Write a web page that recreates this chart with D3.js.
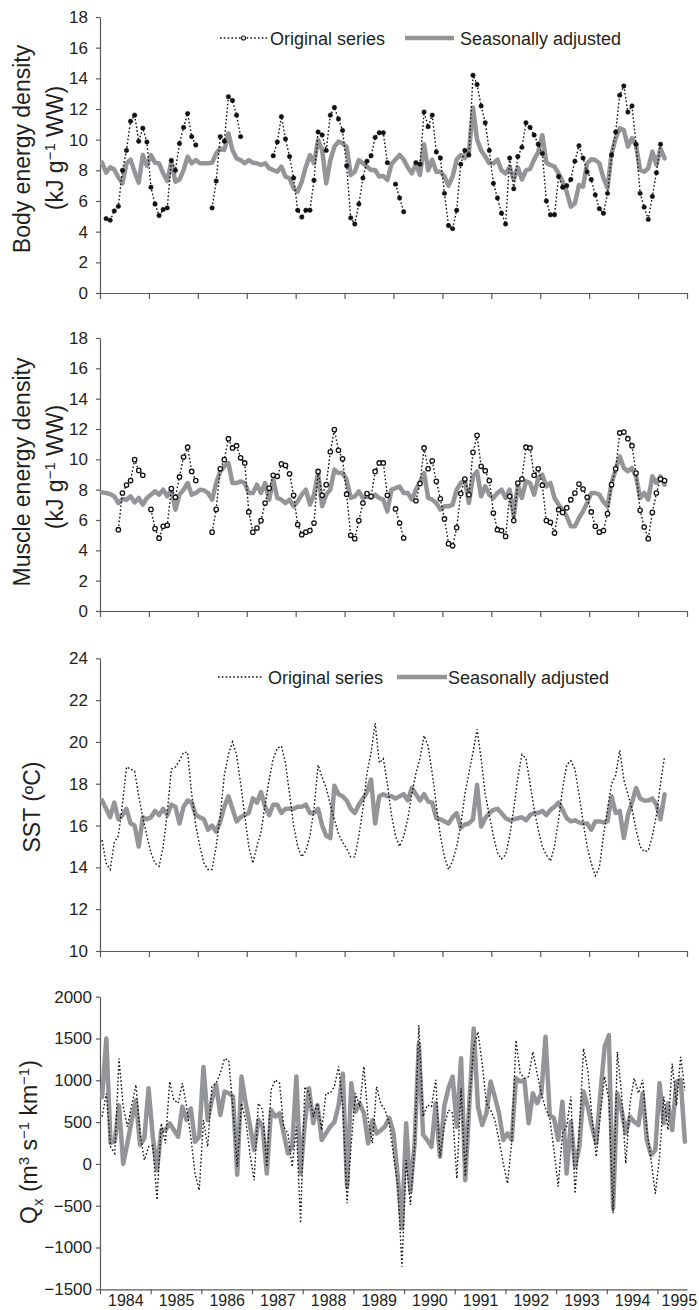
<!DOCTYPE html>
<meta charset="utf-8">
<style>
body { margin: 0; background: #fff; }
svg { display: block; font-family: "Liberation Sans", Arial, Helvetica, sans-serif; }
.axis path, .axis line { stroke: #58595b; stroke-width: 1.2px; }
.axis text { fill: #231f20; font-size: 17px; font-family: "Liberation Sans", Arial, sans-serif; }
.years text { font-size: 16px; }
.adjusted { fill: none; stroke: #939598; stroke-width: 4.5px; stroke-linejoin: round; stroke-linecap: round; }
.original { fill: none; stroke: #111; stroke-width: 1.4px; stroke-dasharray: 1.6,2.2; }
.label { fill: #231f20; font-size: 23px; }
.legend { fill: #231f20; font-size: 18px; }
</style>
<svg width="699" height="1310"></svg>
<script src="https://d3js.org/d3.v7.min.js"></script>
<script>

// monthly values, 139 months from Jan 1984; null = no sample that month
var bodyOriginal = [
  null, 4.85, 4.75, 5.35, 5.65, 8.0, 9.3, 11.2, 11.6, 9.9, 10.75, 9.85,
  6.9, 5.8, 5.05, 5.45, 5.55, 8.65, 8.0, 9.75, 10.8, 11.7, 10.2, 9.65,
  null, null, null, 5.55, 7.3, 10.2, 9.9, 12.8, 12.55, 11.6, 10.2, null,
  null, null, null, null, null, null, 8.95, 9.85, 11.5, 10.05, 8.9, 7.5,
  5.4, 4.95, 5.4, 5.4, 7.35, 10.5, 10.3, 9.3, 11.6, 12.1, 11.35, 10.6,
  8.3, 4.9, 4.5, 5.8, 7.5, 8.6, 8.95, 10.15, 10.45, 10.45, 8.5, null,
  7.1, 6.2, 5.3, null, null, 8.5, 8.4, 11.8, 10.85, 11.6, 9.2, 8.8,
  6.5, 4.4, 4.2, 5.4, 8.4, 9.3, 9.0, 14.2, 13.6, 12.2, 11.1, 9.3,
  7.15, 6.2, 5.2, 4.5, 8.8, 6.8, 8.9, 9.5, 11.1, 10.8, 10.3, 9.7,
  9.1, 6.0, 5.1, 5.1, 7.6, 6.9, 7.0, 7.4, 8.6, 9.6, 8.8, 7.9,
  7.4, 6.4, 5.5, 5.2, 6.5, 9.0, 10.5, 12.9, 13.5, 11.8, 12.2, 9.7,
  6.5, 5.6, 4.8, 6.3, 7.85, 9.7, null
];
var bodyAdjusted = [
  8.5, 7.85, 8.2, 8.05, 7.55, 7.15, 8.45, 8.7, 7.9, 7.2, 9.0, 8.3,
  9.0, 8.5, 8.45, 7.8, 7.3, 8.57, 7.26, 7.4, 8.02, 8.89, 8.46, 8.67,
  8.46, 8.46, 8.46, 8.5, 9.1, 9.43, 9.33, 10.41, 9.33, 8.78, 8.67, 8.46,
  8.67, 8.5, 8.46, 8.35, 8.46, 8.13, 8.02, 7.91, 8.24, 7.59, 7.48, 6.83,
  6.61, 7.26, 8.24, 9.0, 8.46, 9.98, 9.33, 7.15, 8.67, 9.54, 9.87, 9.76,
  9.54, 7.7, 7.91, 8.67, 8.46, 8.24, 8.02, 8.02, 7.59, 7.63, 7.37, 8.4,
  8.7, 9.0, 8.7, 8.2, 7.8, 8.4, 7.7, 9.7, 8.0, 8.7, 7.9, 7.9,
  7.6, 7.0, 7.6, 8.7, 9.0, 8.8, 9.2, 12.1, 10.0, 9.3, 8.9, 8.46,
  8.46, 8.7, 8.0, 7.8, 8.2, 7.4, 8.2, 7.4, 8.0, 8.1, 8.7, 9.2,
  10.3, 8.5, 8.35, 8.24, 7.8, 7.26, 6.6, 5.63, 5.85, 7.04, 6.93, 8.46,
  8.72, 8.67, 8.46, 7.5, 6.83, 9.11, 10.09, 10.74, 10.63, 9.54, 10.09, 9.65,
  8.02, 7.91, 8.13, 9.22, 8.35, 9.43, 8.78
];
var muscleOriginal = [
  null, null, null, null, 5.36, 7.78, 8.3, 8.6, 9.98, 9.27, 8.95, null,
  6.7, 5.43, 4.8, 5.58, 5.65, 8.07, 7.5, 8.84, 10.15, 10.8, 9.2, 8.6,
  null, null, null, 5.2, 6.7, 9.38, 9.98, 11.36, 10.75, 10.9, 10.1, 9.76,
  6.53, 5.2, 5.47, 5.96, 7.12, 8.1, 8.95, 8.88, 9.7, 9.6, 9.05, 7.63,
  5.7, 5.03, 5.2, 5.3, 5.8, 9.2, 7.63, 8.33, 10.5, 11.96, 10.6, 10.04,
  7.7, 4.99, 4.77, 5.96, 7.12, 7.74, 7.56, 9.2, 9.76, 9.76, 7.63, null,
  6.73, 5.8, 4.81, null, null, 7.27, 8.4, 10.75, 9.38, 9.9, 8.55, 7.4,
  6.07, 4.44, 4.3, 5.5, 7.74, 8.7, 7.67, 10.46, 11.58, 9.54, 9.25, 8.6,
  6.46, 5.36, 5.3, 4.92, 7.56, 5.96, 8.44, 8.7, 10.8, 10.75, 8.95, 9.38,
  8.29, 5.96, 5.85, 5.14, 6.68, 6.5, 6.8, 7.34, 7.78, 8.37, 8.04, 7.5,
  6.53, 5.58, 5.2, 5.3, 6.42, 8.33, 9.38, 11.74, 11.8, 11.36, 10.9, 9.1,
  6.64, 5.54, 4.77, 6.5, 7.78, 8.7, 8.6
];
var muscleAdjusted = [
  7.82, 7.78, 7.71, 7.56, 7.12, 7.38, 7.34, 7.56, 7.16, 7.45, 7.01, 7.45,
  7.67, 7.89, 7.67, 8.0, 7.56, 8.0, 6.68, 7.67, 8.0, 8.44, 7.67, 7.78,
  8.0, 7.96, 7.78, 7.34, 8.44, 9.21, 9.54, 9.76, 8.44, 8.44, 8.55, 8.44,
  7.78, 7.78, 8.33, 7.78, 8.44, 7.34, 8.66, 7.45, 7.34, 7.12, 7.34, 6.9,
  7.23, 7.67, 8.0, 7.01, 7.67, 9.1, 6.9, 7.67, 8.0, 9.32, 9.1, 9.1,
  8.66, 7.45, 7.56, 7.89, 7.45, 7.56, 7.45, 7.67, 7.45, 7.34, 6.57, 8.0,
  8.1, 8.2, 7.78, 7.78, 7.34, 8.0, 8.5, 9.1, 7.45, 7.34, 7.12, 6.68,
  6.9, 6.9, 7.01, 8.0, 8.44, 8.66, 7.12, 8.88, 9.21, 7.56, 8.22, 7.67,
  7.45, 7.78, 8.0, 7.45, 8.0, 6.24, 8.33, 7.45, 8.55, 8.44, 7.67, 8.77,
  8.99, 8.22, 8.44, 7.45, 7.01, 6.68, 6.24, 5.58, 5.58, 6.13, 6.57, 7.12,
  7.78, 7.78, 7.67, 7.2, 6.9, 8.44, 9.32, 10.2, 9.43, 9.21, 9.43, 8.88,
  7.45, 7.78, 7.34, 8.88, 8.44, 8.88, 8.33
];
var sstOriginal = [
  15.3, 14.2, 13.9, 15.2, 15.5, 17.0, 18.8, 18.7, 18.6, 17.4, 16.4, 15.5,
  14.7, 14.2, 14.05, 15.0, 16.6, 18.7, 18.8, 19.1, 19.5, 19.5, 17.5, 16.0,
  15.0, 14.2, 13.9, 13.9, 15.0, 16.5, 18.4, 19.4, 20.0, 19.4, 18.0, 16.5,
  15.0, 14.2, 15.0, 15.7, 17.0, 18.2, 19.2, 19.7, 19.8, 19.0, 17.5, 16.0,
  15.0, 14.5, 14.8, 15.5, 16.8, 18.9, 18.3, 17.8, 17.0, 16.3, 15.6, 15.2,
  14.9, 14.5, 14.5, 15.5, 16.8, 18.5, 19.5, 20.9, 19.0, 19.2, 18.0, 16.5,
  15.5, 15.0, 15.5, 16.3, 17.5, 18.5, 19.2, 20.3, 19.8, 18.5, 17.0, 15.5,
  14.5, 13.9, 14.3, 15.0, 16.0, 17.5, 18.5, 19.5, 20.6, 19.2, 17.5, 16.5,
  15.5, 14.7, 14.4, 14.6, 15.5, 16.8, 18.3, 19.4, 19.2, 18.0, 16.8, 15.8,
  15.0, 14.6, 14.3, 15.0, 16.3, 17.8, 18.9, 19.1, 18.7, 17.5, 16.2, 15.0,
  14.2, 13.6, 14.0, 15.5, 16.8, 18.0, 18.4, 19.6, 18.2, 17.5, 16.8, 15.8,
  15.0, 14.75, 14.8, 15.5, 16.5, 18.0, 19.3
];
var sstAdjusted = [
  17.2, 16.8, 16.4, 17.1, 16.3, 16.5, 16.8, 16.1, 16.0, 15.0, 16.4, 16.3,
  16.4, 16.7, 16.5, 16.8, 16.5, 17.0, 16.9, 16.1, 16.9, 17.2, 17.1, 16.5,
  16.4, 16.3, 15.8, 16.0, 15.7, 16.2, 16.9, 17.4, 16.8, 16.2, 16.4, 16.5,
  16.6, 17.3, 17.1, 17.6, 16.9, 16.5, 17.0, 17.0, 16.6, 16.8, 16.8, 16.8,
  16.9, 16.9, 17.0, 16.6, 16.6, 16.8, 16.0, 15.5, 15.4, 17.9, 17.5, 17.4,
  17.2, 16.8, 16.6, 17.0, 17.3, 17.6, 18.2, 16.1, 17.4, 17.5, 17.4, 17.4,
  17.3, 17.4, 17.5, 17.2, 17.8, 17.5, 17.2, 17.5, 17.15, 17.1, 16.35, 16.3,
  16.2, 16.1, 16.4, 16.6, 15.9, 16.05, 16.1, 16.3, 17.95, 15.95, 16.35, 16.6,
  16.75, 16.8, 16.6, 16.35, 16.25, 16.3, 16.35, 16.4, 16.25, 16.5, 16.6, 16.6,
  16.7, 16.5, 16.75, 16.9, 17.1, 16.75, 16.35, 16.2, 16.25, 16.15, 16.1, 16.1,
  15.8, 16.2, 16.2, 16.15, 16.2, 17.4, 16.6, 16.7, 15.4, 16.5, 17.1, 17.8,
  17.3, 17.2, 17.2, 17.3, 17.0, 16.3, 17.5
];
var qxOriginal = [
  565, 840, 205, 125, 1260, 685, 445, 700, 945, 365, 45, 205,
  220, -430, 485, 245, 985, 765, 725, 965, 685, 325, -115, -315,
  525, 205, 925, 965, 1085, 1260, 1240, 645, -35, 725, 525, 125,
  -195, 725, 645, -35, 885, 1005, 965, 445, 365, -35, 445, -710,
  925, 845, 565, 725, 405, 845, 845, 925, 1165, 685, -470, 245,
  845, 685, 1165, 525, 245, 925, 720, 645, 480, 100, -250, -1230,
  45, -490, 205, 1660, 565, 705, 685, 1005, 85, 445, 645, 605,
  -175, 905, -150, 765, 1400, 1580, 1200, 725, 645, 525, 285, 5,
  -235, 265, 1480, 1085, 1025, 1045, 1340, 1085, 845, 665, 545, 165,
  -270, 365, 445, 805, -355, 405, 1380, 1125, 565, 85, 605, 1045,
  765, -590, 1340, 845, 5, 725, 1025, 845, 1005, 405, 45, -355,
  85, 805, 405, 1200, 700, 1280, 880
];
var qxAdjusted = [
  800, 1500, 250, 270, 700, 0, 250, 525, 760, 225, 305, 905,
  325, -75, 405, 405, 485, 405, 325, 685, 525, 665, 265, 325,
  1160, 525, 765, 945, 585, 865, 845, 805, -130, 1045, 725, 465,
  165, 525, 445, -115, 645, 565, 605, 365, 125, 205, 1045, -115,
  485, 905, 485, 705, 285, 365, 445, 500, 700, 1080, -270, 965,
  625, 725, 605, 245, 525, 365, 400, 450, 550, 370, -150, -770,
  485, -330, 250, 1440, 350, 285, 205, 725, 85, 685, 905, 1045,
  445, 1265, -195, 765, 1620, 685, 465, 605, 985, 800, 605, 285,
  365, 285, 1025, 985, 1005, 485, 845, 725, 845, 1520, 585, 545,
  285, 745, -115, 505, -35, 205, 865, 685, 445, 245, 845, 1400,
  1540, -530, 845, 645, 365, 565, 505, 465, 845, 285, 105, 165,
  965, 485, 725, 405, 985, 1005, 265
];

var years = ["1984", "1985", "1986", "1987", "1988", "1989", "1990", "1991", "1992", "1993", "1994", "1995"];
var energyTicks = [0, 2, 4, 6, 8, 10, 12, 14, 16, 18];
var sstTicks = [10, 12, 14, 16, 18, 20, 22, 24];
var qxTicks = [-1500, -1000, -500, 0, 500, 1000, 1500, 2000];

var svg = d3.select("svg"),
    left = 100,
    right = 687;

var panels = [
  {orig: bodyOriginal, adj: bodyAdjusted, ticks: energyTicks, top: 17, bottom: 293, slots: 144, marker: "dot", pad: 8},
  {orig: muscleOriginal, adj: muscleAdjusted, ticks: energyTicks, top: 338, bottom: 611, slots: 144, marker: "ring", pad: 8},
  {orig: sstOriginal, adj: sstAdjusted, ticks: sstTicks, top: 658.3, bottom: 951, slots: 144, pad: 8},
  {orig: qxOriginal, adj: qxAdjusted, ticks: qxTicks, top: 996.7, bottom: 1289.3, slots: 139, pad: 4, years: true}
];

panels.forEach(function(p) {
  var x = d3.scaleLinear().domain([0, p.slots]).range([left, right]),
      y = d3.scaleLinear().domain(d3.extent(p.ticks)).range([p.bottom, p.top]);
  var g = svg.append("g");

  var line = d3.line()
      .defined(function(d) { return d != null; })
      .x(function(d, i) { return x(i + 0.5); })
      .y(function(d) { return y(d); });

  // axes first so the lines sit on top
  g.append("g")
      .attr("class", "axis")
      .attr("transform", "translate(" + left + ",0)")
      .call(d3.axisLeft(y).tickValues(p.ticks).tickSize(4).tickSizeOuter(0)
        .tickPadding(p.pad).tickFormat(d3.format("d")));

  var monthTicks = d3.range(0, p.slots + 1, 12);
  if (p.years) monthTicks = monthTicks.filter(function(m) { return m < p.slots - 6; });
  g.append("g")
      .attr("class", "axis")
      .attr("transform", "translate(0," + p.bottom + ")")
      .call(d3.axisBottom(x).tickValues(monthTicks).tickSize(p.years ? 5 : 6).tickSizeOuter(0).tickFormat(""));

  if (p.years) {
    var yr = g.append("g")
        .attr("class", "axis years")
        .attr("transform", "translate(0," + p.bottom + ")")
        .call(d3.axisBottom(x).tickValues(years.map(function(d, k) { return 12 * k + 6; }))
          .tickSize(0).tickPadding(5).tickFormat(function(d, k) { return years[k]; }));
    yr.select(".domain").remove();
    yr.selectAll(".tick text").filter(function(d, k) { return k === years.length - 1; }).attr("x", -4);
  }

  g.append("path").attr("class", "adjusted").attr("d", line(p.adj));
  g.append("path").attr("class", "original").attr("d", line(p.orig));

  if (p.marker) {
    var pts = p.orig.map(function(v, i) { return {i: i, v: v}; })
        .filter(function(d) { return d.v != null; });
    g.selectAll(".pt")
      .data(pts)
      .enter().append("circle")
        .attr("cx", function(d) { return x(d.i + 0.5); })
        .attr("cy", function(d) { return y(d.v); })
        .attr("r", 2.2)
        .attr("fill", p.marker == "dot" ? "#111" : "#fff")
        .attr("stroke", "#111")
        .attr("stroke-width", p.marker == "dot" ? 0.6 : 1.3);
  }
});

// y axis titles
function ylabel(xpos, ypos, parts) {
  var t = svg.append("text")
      .attr("class", "label")
      .attr("text-anchor", "middle")
      .attr("transform", "translate(" + xpos + "," + ypos + ") rotate(-90)");
  var shift = 0;
  parts.forEach(function(p) {
    var dy = (p.dy || 0) - shift;
    var s = t.append("tspan").attr("dy", dy).text(p.t);
    if (p.size) s.style("font-size", p.size + "px");
    shift = p.dy || 0;
  });
}
ylabel(30, 149, [{t: "Body energy density"}]);
ylabel(63, 148, [{t: "(kJ g"}, {t: "\u22121", dy: -8, size: 15}, {t: " WW)"}]);
ylabel(30, 472, [{t: "Muscle energy density"}]);
ylabel(63, 467, [{t: "(kJ g"}, {t: "\u22121", dy: -8, size: 15}, {t: " WW)"}]);
ylabel(40, 807, [{t: "SST (\u00baC)"}]);
ylabel(37, 1142, [{t: "Q"}, {t: "x", dy: 6, size: 15}, {t: " (m"}, {t: "3", dy: -8, size: 15},
  {t: " s"}, {t: "\u22121", dy: -8, size: 15}, {t: " km"}, {t: "\u22121", dy: -8, size: 15}, {t: ")"}]);

// legends
function legend(yc, dotStart, dotEnd, withRing, grayStart, grayEnd, textOrig, textAdj) {
  svg.append("line").attr("class", "original")
      .attr("x1", dotStart).attr("x2", dotEnd).attr("y1", yc).attr("y2", yc);
  if (withRing) {
    svg.append("circle").attr("cx", (dotStart + dotEnd) / 2).attr("cy", yc).attr("r", 2)
        .attr("fill", "#fff").attr("stroke", "#111").attr("stroke-width", 1.1);
  }
  svg.append("text").attr("class", "legend").attr("x", textOrig).attr("y", yc + 6.5).text("Original series");
  svg.append("line").attr("class", "adjusted")
      .attr("x1", grayStart).attr("x2", grayEnd).attr("y1", yc).attr("y2", yc)
      .style("stroke-linecap", "butt");
  svg.append("text").attr("class", "legend").attr("x", textAdj).attr("y", yc + 6.5).text("Seasonally adjusted");
}
legend(38, 220, 267, true, 405, 454, 270, 460);
legend(677, 218, 263, false, 397, 447, 268, 448);

</script>
